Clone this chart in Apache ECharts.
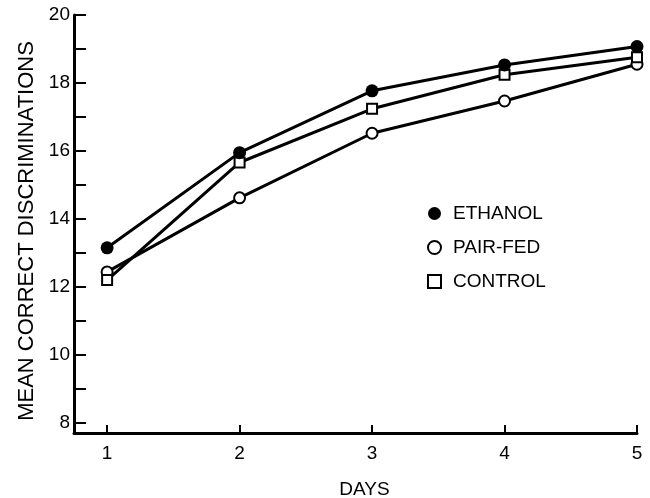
<!DOCTYPE html>
<html>
<head>
<meta charset="utf-8">
<script src="https://cdn.jsdelivr.net/npm/echarts@6/dist/echarts.min.js"></script>
<style>html,body{margin:0;padding:0;background:#fff}#c{width:650px;height:498px}</style>
</head>
<body>
<div id="c"></div>
<script>
var days = [1, 2, 3, 4, 5];
var ethanol = [13.15, 15.95, 17.77, 18.53, 19.07];
var pairFed = [12.44, 14.62, 16.52, 17.47, 18.55];
var control = [12.2, 15.66, 17.24, 18.24, 18.76];
var yTicks = [8, 9, 10, 11, 12, 13, 14, 15, 16, 17, 18, 19, 20];
var yLabels = [8, 10, 12, 14, 16, 18, 20];
var xTicks = [1, 2, 3, 4, 5];

function pairs(vals) { return days.map(function (d, i) { return [d, vals[i]]; }); }

var font = 'Liberation Sans';
var chart = echarts.init(document.getElementById('c'));
chart.setOption({
  animation: false,
  backgroundColor: '#fff',
  grid: { left: 74, right: 13, top: 15, bottom: 65, containLabel: false, outerBoundsMode: 'none' },
  xAxis: {
    type: 'value', min: 0.75, max: 5,
    name: 'DAYS', nameLocation: 'middle', nameGap: 47,
    nameTextStyle: { fontFamily: font, fontSize: 19, color: '#000', padding: [0, 0, 0, 18] },
    axisLine: { show: true, lineStyle: { color: '#000', width: 3 } },
    axisTick: { show: true, inside: true, length: 8, lineStyle: { color: '#000', width: 2 }, customValues: xTicks },
    axisLabel: { color: '#000', fontFamily: font, fontSize: 19, margin: 11, customValues: xTicks },
    splitLine: { show: false }
  },
  yAxis: {
    type: 'value', min: 7.7, max: 20,
    name: 'MEAN CORRECT DISCRIMINATIONS', nameLocation: 'middle', nameGap: 35,
    nameTextStyle: { fontFamily: font, fontSize: 22, color: '#000', padding: [0, 14, 0, 0] },
    axisLine: { show: true, lineStyle: { color: '#000', width: 3 } },
    axisTick: { show: true, inside: true, length: 12, lineStyle: { color: '#000', width: 2 }, customValues: yTicks },
    axisLabel: { color: '#000', fontFamily: font, fontSize: 19, margin: 4, customValues: yLabels },
    splitLine: { show: false }
  },
  legend: {
    orient: 'vertical', left: 422, top: 199, itemGap: 15, itemWidth: 13, itemHeight: 13,
    textStyle: { fontFamily: font, fontSize: 19, color: '#000', padding: [0, 0, 0, 7] },
    data: [
      { name: 'ETHANOL', icon: 'circle', itemStyle: { color: '#000', borderWidth: 0 } },
      { name: 'PAIR-FED', icon: 'path://M6.5,1.5A5,5 0 1,1 6.49,1.5Z', itemStyle: { color: '#fff', borderColor: '#000', borderWidth: 2 } },
      { name: 'CONTROL', icon: 'path://M2,2H11V11H2Z', itemStyle: { color: '#fff', borderColor: '#000', borderWidth: 2 } }
    ]
  },
  series: [
    {
      name: 'PAIR-FED', type: 'line', data: pairs(pairFed),
      symbol: 'circle', symbolSize: 11, showAllSymbol: true,
      lineStyle: { color: '#000', width: 3 },
      itemStyle: { color: '#fff', borderColor: '#000', borderWidth: 2 }
    },
    {
      name: 'CONTROL', type: 'line', data: pairs(control),
      symbol: 'rect', symbolSize: 10,
      lineStyle: { color: '#000', width: 3 },
      itemStyle: { color: '#fff', borderColor: '#000', borderWidth: 2 }
    },
    {
      name: 'ETHANOL', type: 'line', data: pairs(ethanol),
      symbol: 'circle', symbolSize: 13,
      lineStyle: { color: '#000', width: 3 },
      itemStyle: { color: '#000', borderColor: '#000', borderWidth: 0 }
    }
  ]
});
</script>
</body>
</html>
